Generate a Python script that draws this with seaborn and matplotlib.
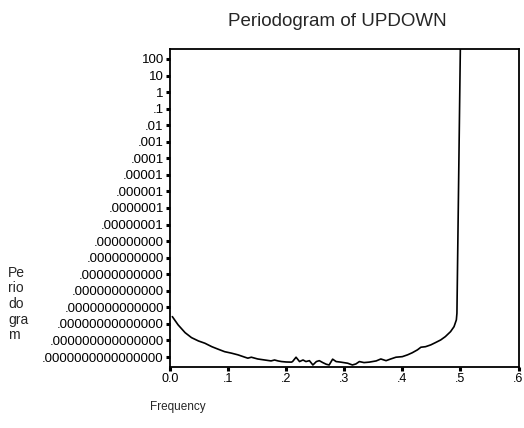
import numpy as np
import pandas as pd
import matplotlib
matplotlib.use("Agg")
import matplotlib.pyplot as plt
import seaborn as sns

# ---- data ----
frequency = [0.004, 0.014, 0.026, 0.037, 0.049, 0.060, 0.072, 0.083, 0.094, 0.106,
             0.117, 0.129, 0.134, 0.140, 0.151, 0.163, 0.174, 0.180, 0.186, 0.192,
             0.200, 0.209, 0.211, 0.217, 0.223, 0.229, 0.234, 0.240, 0.246, 0.252,
             0.257, 0.263, 0.269, 0.274, 0.280, 0.286, 0.294, 0.306, 0.314, 0.320,
             0.326, 0.334, 0.343, 0.355, 0.363, 0.372, 0.380, 0.389, 0.400, 0.409,
             0.417, 0.426, 0.432, 0.440, 0.449, 0.457, 0.466, 0.474, 0.483, 0.489,
             0.493, 0.494, 0.500]
periodogram = [2.75e-14, 8.7e-15, 2.95e-15, 1.48e-15, 9.3e-16, 6.8e-16, 4.2e-16, 2.95e-16, 2.1e-16, 1.7e-16,
               1.35e-16, 9.7e-17, 8.5e-17, 9.7e-17, 7.6e-17, 6.6e-17, 5.8e-17, 6.6e-17, 5.8e-17, 5.3e-17,
               5.0e-17, 4.9e-17, 5.3e-17, 9.7e-17, 5.3e-17, 6.6e-17, 5.3e-17, 6.0e-17, 3.3e-17, 5.3e-17,
               6.0e-17, 4.6e-17, 3.65e-17, 3.3e-17, 7.4e-17, 5.3e-17, 4.9e-17, 4.2e-17, 3.3e-17, 3.8e-17,
               5.3e-17, 4.6e-17, 4.9e-17, 5.8e-17, 7.6e-17, 6.0e-17, 7.6e-17, 9.7e-17, 1.05e-16, 1.35e-16,
               1.8e-16, 2.7e-16, 3.9e-16, 4.2e-16, 5.4e-16, 7.4e-16, 1.07e-15, 1.7e-15, 3.4e-15, 6.8e-15,
               1.74e-14, 4.4e-14, 1.0e3]

x_ticks = [0.0, 0.1, 0.2, 0.3, 0.4, 0.5, 0.6]
x_tick_labels = ["0.0", ".1", ".2", ".3", ".4", ".5", ".6"]
y_ticks = [1e2, 1e1, 1e0, 1e-1, 1e-2, 1e-3, 1e-4, 1e-5, 1e-6, 1e-7, 1e-8,
           1e-9, 1e-10, 1e-11, 1e-12, 1e-13, 1e-14, 1e-15, 1e-16]
y_tick_labels = ["100", "10", "1", ".1", ".01", ".001", ".0001", ".00001",
                 ".000001", ".0000001", ".00000001", ".000000000",
                 ".0000000000", ".00000000000", ".000000000000",
                 ".0000000000000", ".00000000000000", ".000000000000000",
                 ".0000000000000000"]

df = pd.DataFrame({"Frequency": frequency, "Periodogram": periodogram})

sns.set_theme(style="ticks")
plt.rcParams["font.family"] = ["Liberation Sans", "DejaVu Sans"]

W, H = 524, 428
fig = plt.figure(figsize=(W / 100, H / 100), dpi=100)
left, right, top, bottom = 170, 518.5, 49, 367
ax = fig.add_axes([left / W, 1 - bottom / H, (right - left) / W, (bottom - top) / H])

sns.lineplot(data=df, x="Frequency", y="Periodogram", ax=ax, color="black",
             linewidth=1.2, sort=False)
ax.set_yscale("log")
ax.set_xlim(0, 0.6)
ax.set_ylim(10 ** -16.604, 10 ** 2.604)

ax.set_xticks(x_ticks)
ax.set_xticklabels(x_tick_labels)
ax.set_yticks(y_ticks)
ax.set_yticklabels(y_tick_labels)
ax.yaxis.set_minor_locator(matplotlib.ticker.NullLocator())
ax.tick_params(axis="both", direction="out", length=3, width=2.2, color="black",
               labelsize=9.5, pad=1.5, labelcolor="black")
ax.tick_params(axis="x", labelsize=9)

for s in ax.spines.values():
    s.set_visible(True)
    s.set_color("black")
    s.set_linewidth(1.3)

ax.set_xlabel("")
ax.set_ylabel("")
fig.text(150 / W, 1 - 407 / H, "Frequency", ha="left", va="center", fontsize=8.5)
fig.text(8 / W, 1 - 304 / H, "Pe\nrio\ndo\ngra\nm", ha="left", va="center",
         fontsize=10, linespacing=1.15, multialignment="left")
fig.text(337 / W, 1 - 22 / H, "Periodogram of UPDOWN", ha="center", va="center",
         fontsize=13.5)

fig.savefig("out.png", dpi=100, facecolor="white")
